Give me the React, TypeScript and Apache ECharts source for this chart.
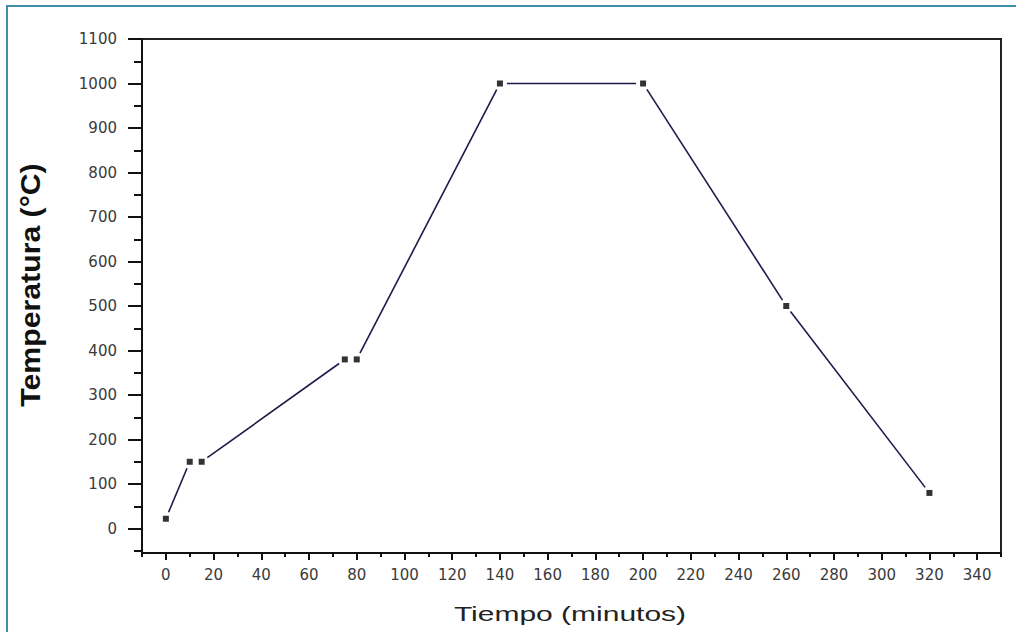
import React, { useEffect, useRef } from "react";
import * as echarts from "echarts";

// Heating / cooling schedule: time (minutes) vs temperature (°C)
const timeMin = [0, 10, 15, 75, 80, 140, 200, 260, 320];
const tempC = [22, 150, 150, 380, 380, 1000, 1000, 500, 80];

// Axis ticks
const xTickLabels = [0, 20, 40, 60, 80, 100, 120, 140, 160, 180, 200, 220, 240, 260, 280, 300, 320, 340];
const xMinorTicks = [-10, 10, 30, 50, 70, 90, 110, 130, 150, 170, 190, 210, 230, 250, 270, 290, 310, 330, 350];
const yTickLabels = [0, 100, 200, 300, 400, 500, 600, 700, 800, 900, 1000, 1100];
const yMinorTicks = [-50, 50, 150, 250, 350, 450, 550, 650, 750, 850, 950, 1050];

const xTitle = "Tiempo (minutos)";
const yTitle = "Temperatura (°C)";

const LINE_GAP = 7; // px left blank around each marker

export default function App() {
  const ref = useRef<HTMLDivElement>(null);

  useEffect(() => {
    if (!ref.current) return;
    const chart = echarts.init(ref.current, null, { renderer: "svg" });

    const segments = timeMin
      .slice(1)
      .map((t, i) => [timeMin[i], tempC[i], t, tempC[i + 1]]);
    const points = timeMin.map((t, i) => [t, tempC[i]]);

    const labelStyle = {
      color: "#3a3a3a",
      fontFamily: "DejaVu Sans",
      fontSize: 15,
      formatter: (v: number) => String(v),
    };
    const tickLine = { color: "#111", width: 2 };

    chart.setOption({
      animation: false,
      backgroundColor: "#ffffff",
      grid: {
        left: 142,
        right: 15,
        top: 39,
        bottom: 79,
        show: true,
        borderColor: "#222",
        borderWidth: 2,
        backgroundColor: "transparent",
      },
      xAxis: [
        {
          type: "value",
          position: "bottom",
          min: -10,
          max: 350,
          axisLine: { show: true, onZero: false, lineStyle: { color: "#111", width: 2 } },
          axisTick: { show: true, inside: false, length: 7, customValues: xTickLabels, lineStyle: tickLine },
          axisLabel: { ...labelStyle, margin: 14, customValues: xTickLabels },
          splitLine: { show: false },
        },
        {
          type: "value",
          position: "bottom",
          offset: 0,
          min: -10,
          max: 350,
          axisLine: { show: false, onZero: false },
          axisTick: { show: true, inside: false, length: 4, customValues: xMinorTicks, lineStyle: tickLine },
          axisLabel: { show: false },
          splitLine: { show: false },
        },
      ],
      yAxis: [
        {
          type: "value",
          position: "left",
          min: -55,
          max: 1100,
          axisLine: { show: true, onZero: false, lineStyle: { color: "#111", width: 2 } },
          axisTick: { show: true, inside: false, length: 14, customValues: yTickLabels, lineStyle: tickLine },
          axisLabel: { ...labelStyle, margin: 25, customValues: yTickLabels },
          splitLine: { show: false },
        },
        {
          type: "value",
          position: "left",
          offset: 0,
          min: -55,
          max: 1100,
          axisLine: { show: false, onZero: false },
          axisTick: { show: true, inside: false, length: 8, customValues: yMinorTicks, lineStyle: tickLine },
          axisLabel: { show: false },
          splitLine: { show: false },
        },
      ],
      series: [
        {
          type: "custom",
          xAxisIndex: 0,
          yAxisIndex: 0,
          data: segments,
          encode: { x: [0, 2], y: [1, 3] },
          renderItem: (_params: any, api: any) => {
            const a = api.coord([api.value(0), api.value(1)]);
            const b = api.coord([api.value(2), api.value(3)]);
            const dx = b[0] - a[0];
            const dy = b[1] - a[1];
            const len = Math.hypot(dx, dy);
            if (len <= 2 * LINE_GAP) return { type: "group", children: [] };
            const ux = dx / len;
            const uy = dy / len;
            return {
              type: "line",
              shape: {
                x1: a[0] + ux * LINE_GAP,
                y1: a[1] + uy * LINE_GAP,
                x2: b[0] - ux * LINE_GAP,
                y2: b[1] - uy * LINE_GAP,
              },
              style: { stroke: "#1c1c4a", lineWidth: 1.6 },
            };
          },
          z: 2,
        },
        {
          type: "scatter",
          xAxisIndex: 0,
          yAxisIndex: 0,
          data: points,
          symbol: "rect",
          symbolSize: 6,
          itemStyle: { color: "#000" },
          z: 3,
        },
      ],
      graphic: [
        {
          type: "rect",
          shape: { x: 7, y: 6, width: 1100, height: 700 },
          style: { fill: "none", stroke: "#3d8ea6", lineWidth: 2 },
          z: 10,
        },
        {
          type: "text",
          x: 570,
          y: 614,
          scaleX: 1.5,
          style: {
            text: xTitle,
            fill: "#222",
            fontFamily: "Liberation Sans",
            fontSize: 20,
            textAlign: "center",
            textVerticalAlign: "middle",
          },
        },
        {
          type: "text",
          x: 31,
          y: 285,
          rotation: Math.PI / 2,
          scaleX: 1.12,
          style: {
            text: yTitle,
            fill: "#111",
            fontFamily: "Liberation Sans",
            fontWeight: "bold",
            fontSize: 27,
            textAlign: "center",
            textVerticalAlign: "middle",
          },
        },
      ],
    });

    return () => chart.dispose();
  }, []);

  return (
    <div
      ref={ref}
      style={{ position: "fixed", left: 0, top: 0, width: 1016, height: 632, background: "#fff" }}
    />
  );
}
